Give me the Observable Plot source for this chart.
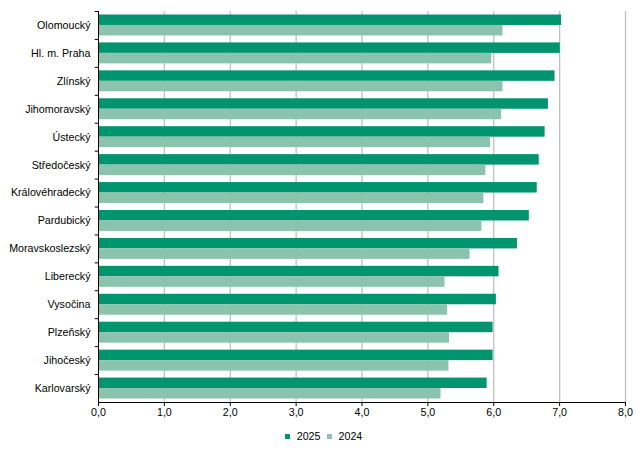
<!DOCTYPE html>
<html>
<head>
<meta charset="utf-8">
<script src="https://cdn.jsdelivr.net/npm/d3@7"></script>
<script src="https://cdn.jsdelivr.net/npm/@observablehq/plot@0.6"></script>
<style>
  body { margin: 0; background: #fff; font-family: "Liberation Sans", Arial, sans-serif; }
  #legend { display: flex; justify-content: center; align-items: center; font-size: 10.7px; color: #000; padding-left: 4px; height: 24px; margin-top: 0px; }
  .item { display: flex; align-items: center; margin: 0 3px; }
  .sw { width: 5px; height: 5px; margin-right: 7px; }
</style>
</head>
<body>
<div id="chart"></div>
<div id="legend"></div>
<script>
const regions = ["Olomoucký", "Hl. m. Praha", "Zlínský", "Jihomoravský", "Ústecký", "Středočeský", "Královéhradecký", "Pardubický", "Moravskoslezský", "Liberecký", "Vysočina", "Plzeňský", "Jihočeský", "Karlovarský"];
const values2025 = [7.03, 7.01, 6.93, 6.83, 6.78, 6.69, 6.66, 6.54, 6.36, 6.08, 6.04, 5.99, 5.99, 5.90];
const values2024 = [6.14, 5.97, 6.14, 6.12, 5.95, 5.88, 5.85, 5.82, 5.64, 5.26, 5.30, 5.33, 5.32, 5.20];
const xTicks = [0, 1, 2, 3, 4, 5, 6, 7, 8];
const series = ["2025", "2024"];
const colors = ["#00956e", "#8ac4ae"];

const rows = regions.map((r, i) => ({region: r, v2025: values2025[i], v2024: values2024[i]}));

const W = 643, H = 424, mt = 11, mb = 22, ml = 98, mr = 18;
const step = (H - mt - mb) / regions.length;
const bw = step * 0.75;

const chart = Plot.plot({
  width: W, height: H,
  marginTop: mt, marginBottom: mb, marginLeft: ml, marginRight: mr,
  style: {fontFamily: "'Liberation Sans', Arial, sans-serif", fontSize: "10.7px", color: "#000", background: "#fff"},
  x: {domain: [0, 8]},
  y: {domain: regions, paddingInner: 0.25, paddingOuter: 0.125, round: false},
  marks: [
    Plot.ruleX(xTicks.slice(1), {stroke: "#c0c0c0", strokeWidth: 1.3}),
    Plot.barX(rows, {y: "region", x: "v2025", fill: colors[0], insetBottom: bw / 2}),
    Plot.barX(rows, {y: "region", x: "v2024", fill: colors[1], insetTop: bw / 2}),
    Plot.ruleX([0], {stroke: "#000"}),
    Plot.ruleY(rows, {y: "region", dy: -step / 2, x1: -0.05, x2: 0, stroke: "#000"}),
    Plot.ruleY([regions[regions.length - 1]], {y: d => d, dy: step / 2, x1: 0, x2: 8, stroke: "#000"}),
    Plot.axisX({ticks: xTicks, tickSize: 4, tickPadding: 2, tickFormat: d => d.toFixed(1).replace(".", ","), label: null, stroke: "#000"}),
    Plot.axisY({tickSize: 0, tickPadding: 8, label: null})
  ]
});
document.getElementById("chart").appendChild(chart);

const legend = document.getElementById("legend");
series.forEach((s, i) => {
  const item = document.createElement("div");
  item.className = "item";
  const sw = document.createElement("span");
  sw.className = "sw";
  sw.style.background = colors[i];
  const t = document.createElement("span");
  t.textContent = s;
  item.appendChild(sw);
  item.appendChild(t);
  legend.appendChild(item);
});
</script>
</body>
</html>
